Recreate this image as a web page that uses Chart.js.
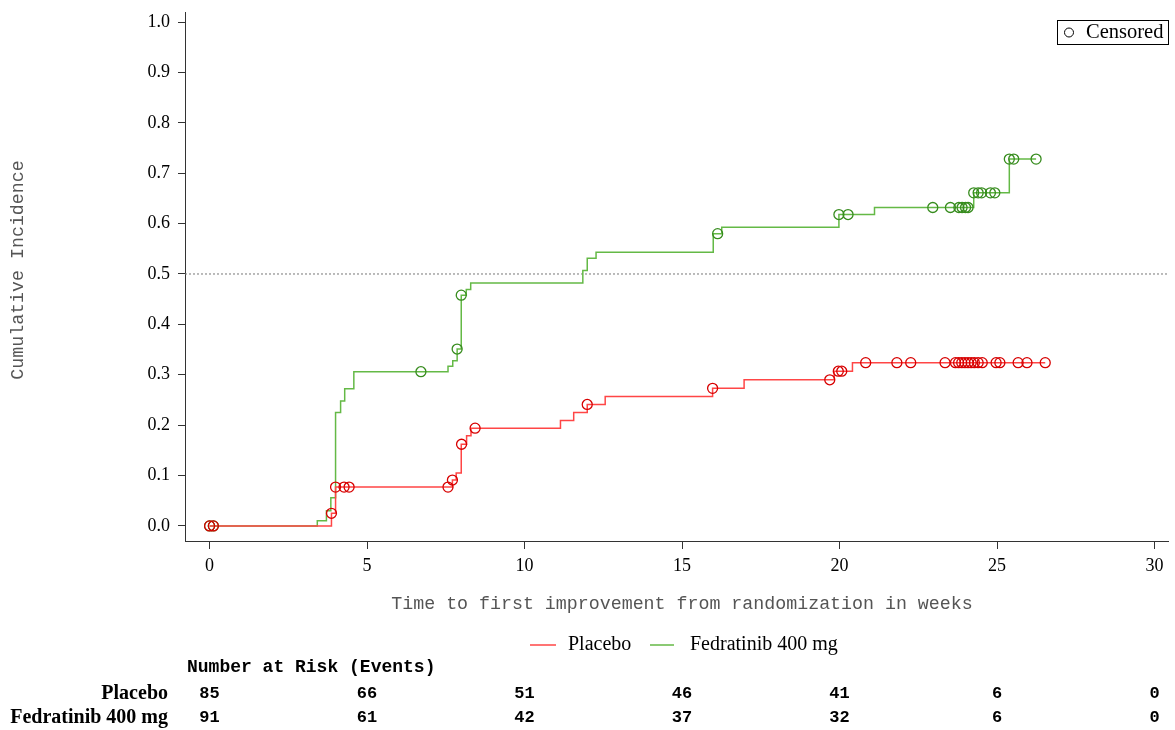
<!DOCTYPE html>
<html>
<head>
<meta charset="utf-8">
<script src="https://cdn.jsdelivr.net/npm/chart.js@4/dist/chart.umd.min.js"></script>
<style>
  body { margin: 0; background: #fff; }
  #chart { display: block; }
</style>
</head>
<body>
<canvas id="chart" width="1175" height="730"></canvas>
<script>
// step points of the cumulative incidence curves (weeks, value after the step)
const placeboTimes = [0, 3.87, 4.0, 7.71, 7.83, 7.99, 8.16, 8.30, 11.14, 11.56, 11.99, 12.56, 15.97, 16.97, 19.83, 20.41, 26.53];
const placeboValues = [0, 0.025, 0.077, 0.091, 0.105, 0.162, 0.179, 0.194, 0.209, 0.225, 0.241, 0.257, 0.273, 0.290, 0.307, 0.324, 0.324];

const fedTimes = [0, 3.42, 3.71, 3.85, 4.0, 4.16, 4.29, 4.58, 7.57, 7.72, 7.86, 7.99, 8.15, 8.29, 11.85, 11.99, 12.27, 15.99, 16.26, 19.98, 21.11, 24.26, 25.39, 26.24];
const fedValues = [0, 0.010, 0.030, 0.056, 0.225, 0.248, 0.272, 0.306, 0.317, 0.328, 0.351, 0.458, 0.469, 0.482, 0.507, 0.531, 0.543, 0.580, 0.593, 0.618, 0.632, 0.661, 0.728, 0.728];

// censored observations
const placeboCensTimes = [0, 0.12, 3.87, 4.0, 4.27, 4.43, 7.57, 7.71, 8.0, 8.43, 11.99, 15.97, 19.69, 19.96, 20.07,
  20.83, 21.82, 22.26, 23.35, 23.68, 23.78, 23.88, 23.98, 24.08, 24.18, 24.28, 24.4, 24.53, 24.97, 25.09, 25.67, 25.95, 26.53];
const placeboCensValues = [0, 0, 0.025, 0.077, 0.077, 0.077, 0.077, 0.091, 0.162, 0.194, 0.241, 0.273, 0.290, 0.307, 0.307,
  0.324, 0.324, 0.324, 0.324, 0.324, 0.324, 0.324, 0.324, 0.324, 0.324, 0.324, 0.324, 0.324, 0.324, 0.324, 0.324, 0.324, 0.324];

const fedCensTimes = [0, 0.12, 6.71, 7.86, 7.99, 16.13, 19.98, 20.27, 22.96, 23.52, 23.79, 23.89, 24.0, 24.08,
  24.26, 24.40, 24.51, 24.79, 24.93, 25.39, 25.53, 26.24];
const fedCensValues = [0, 0, 0.306, 0.351, 0.458, 0.580, 0.618, 0.618, 0.632, 0.632, 0.632, 0.632, 0.632, 0.632,
  0.661, 0.661, 0.661, 0.661, 0.661, 0.728, 0.728, 0.728];

const xTicks = [0, 5, 10, 15, 20, 25, 30];
const yTicks = [0, 0.1, 0.2, 0.3, 0.4, 0.5, 0.6, 0.7, 0.8, 0.9, 1.0];
const refLine = 0.5;

// number at risk table
const riskTimes = [0, 5, 10, 15, 20, 25, 30];
const placeboRisk = [85, 66, 51, 46, 41, 6, 0];
const fedRisk = [91, 61, 42, 37, 32, 6, 0];

const X_MIN = -0.78, X_MAX = 30.45, Y_MIN = -0.03, Y_MAX = 1.02;

const RED_LINE = 'rgb(255,70,70)';
const RED_MARK = 'rgb(215,0,0)';
const GREEN_LINE = 'rgb(100,185,70)';
const GREEN_MARK = 'rgb(55,140,30)';
const SERIF = '"Liberation Serif", "Times New Roman", serif';
const MONO = '"Liberation Mono", "Courier New", monospace';

const pts = (xs, ys) => xs.map((x, i) => ({ x, y: ys[i] }));

const overlay = {
    id: 'overlay',
    afterDraw(chart) {
        const ctx = chart.ctx;
        const x = chart.scales.x;
        ctx.save();

        // axis titles
        ctx.fillStyle = '#555';
        ctx.font = '18.3px ' + MONO;
        ctx.textAlign = 'center';
        ctx.textBaseline = 'middle';
        ctx.fillText('Time to first improvement from randomization in weeks', 682, 604);
        ctx.save();
        ctx.translate(18, 270);
        ctx.rotate(-Math.PI / 2);
        ctx.fillText('Cumulative Incidence', 0, 0);
        ctx.restore();

        // censored legend box
        ctx.strokeStyle = '#000';
        ctx.lineWidth = 1;
        ctx.strokeRect(1057.5, 20.5, 111, 24);
        ctx.beginPath();
        ctx.arc(1069, 32.5, 4.5, 0, Math.PI * 2);
        ctx.stroke();
        ctx.fillStyle = '#000';
        ctx.font = '20.5px ' + SERIF;
        ctx.textAlign = 'left';
        ctx.fillText('Censored', 1086, 33);

        // series legend
        ctx.font = '20px ' + SERIF;
        ctx.lineWidth = 1.5;
        ctx.strokeStyle = RED_LINE;
        ctx.beginPath(); ctx.moveTo(530, 645); ctx.lineTo(556, 645); ctx.stroke();
        ctx.strokeStyle = GREEN_LINE;
        ctx.beginPath(); ctx.moveTo(650, 645); ctx.lineTo(674, 645); ctx.stroke();
        ctx.fillText('Placebo', 568, 645);
        ctx.fillText('Fedratinib 400 mg', 690, 645);

        // number at risk
        ctx.font = 'bold 18px ' + MONO;
        ctx.fillText('Number at Risk (Events)', 187, 667);
        ctx.font = 'bold 20px ' + SERIF;
        ctx.textAlign = 'right';
        ctx.fillText('Placebo', 168, 694);
        ctx.fillText('Fedratinib 400 mg', 168, 718);
        ctx.font = 'bold 17px ' + MONO;
        ctx.textAlign = 'center';
        riskTimes.forEach((t, i) => {
            const px = x.getPixelForValue(t);
            ctx.fillText(String(placeboRisk[i]), px, 694);
            ctx.fillText(String(fedRisk[i]), px, 718);
        });
        ctx.restore();
    }
};

new Chart(document.getElementById('chart'), {
    type: 'scatter',
    data: {
        datasets: [
            {
                label: 'Placebo censored',
                data: pts(placeboCensTimes, placeboCensValues),
                pointStyle: 'circle',
                pointRadius: 5,
                pointBorderWidth: 1.3,
                borderColor: RED_MARK,
                backgroundColor: 'rgba(0,0,0,0)'
            },
            {
                label: 'Fedratinib censored',
                data: pts(fedCensTimes, fedCensValues),
                pointStyle: 'circle',
                pointRadius: 5,
                pointBorderWidth: 1.3,
                borderColor: GREEN_MARK,
                backgroundColor: 'rgba(0,0,0,0)'
            },
            {
                label: 'Placebo',
                data: pts(placeboTimes, placeboValues),
                showLine: true,
                stepped: true,
                borderColor: RED_LINE,
                borderWidth: 1.5,
                pointRadius: 0
            },
            {
                label: 'Fedratinib 400 mg',
                data: pts(fedTimes, fedValues),
                showLine: true,
                stepped: true,
                borderColor: GREEN_LINE,
                borderWidth: 1.5,
                pointRadius: 0
            },
            {
                label: 'ref',
                data: [{ x: X_MIN, y: refLine }, { x: X_MAX, y: refLine }],
                showLine: true,
                borderColor: '#777',
                borderWidth: 1,
                borderDash: [2, 2],
                pointRadius: 0
            }
        ]
    },
    options: {
        responsive: false,
        animation: false,
        devicePixelRatio: 1,
        layout: { padding: { top: 12, right: 5, left: 0, bottom: 0 } },
        plugins: { legend: { display: false }, tooltip: { enabled: false } },
        scales: {
            x: {
                type: 'linear',
                min: X_MIN,
                max: X_MAX,
                afterBuildTicks: (s) => { s.ticks = xTicks.map(v => ({ value: v })); },
                afterFit: (s) => { s.height = 189; s.paddingLeft = 0; s.paddingRight = 0; },
                grid: { drawOnChartArea: false, drawTicks: true, tickLength: 8, color: '#333' },
                border: { display: true, color: '#333', width: 1 },
                ticks: {
                    color: '#000',
                    padding: 6,
                    font: { family: SERIF, size: 18 },
                    maxRotation: 0,
                    callback: (v) => String(v)
                }
            },
            y: {
                type: 'linear',
                min: Y_MIN,
                max: Y_MAX,
                afterBuildTicks: (s) => { s.ticks = yTicks.map(v => ({ value: v })); },
                afterFit: (s) => { s.width = 185; s.paddingTop = 0; s.paddingBottom = 0; },
                grid: { drawOnChartArea: false, drawTicks: true, tickLength: 7, color: '#333' },
                border: { display: true, color: '#333', width: 1 },
                ticks: {
                    color: '#000',
                    padding: 8,
                    font: { family: SERIF, size: 18 },
                    callback: (v) => v.toFixed(1)
                }
            }
        }
    },
    plugins: [overlay]
});
</script>
</body>
</html>
